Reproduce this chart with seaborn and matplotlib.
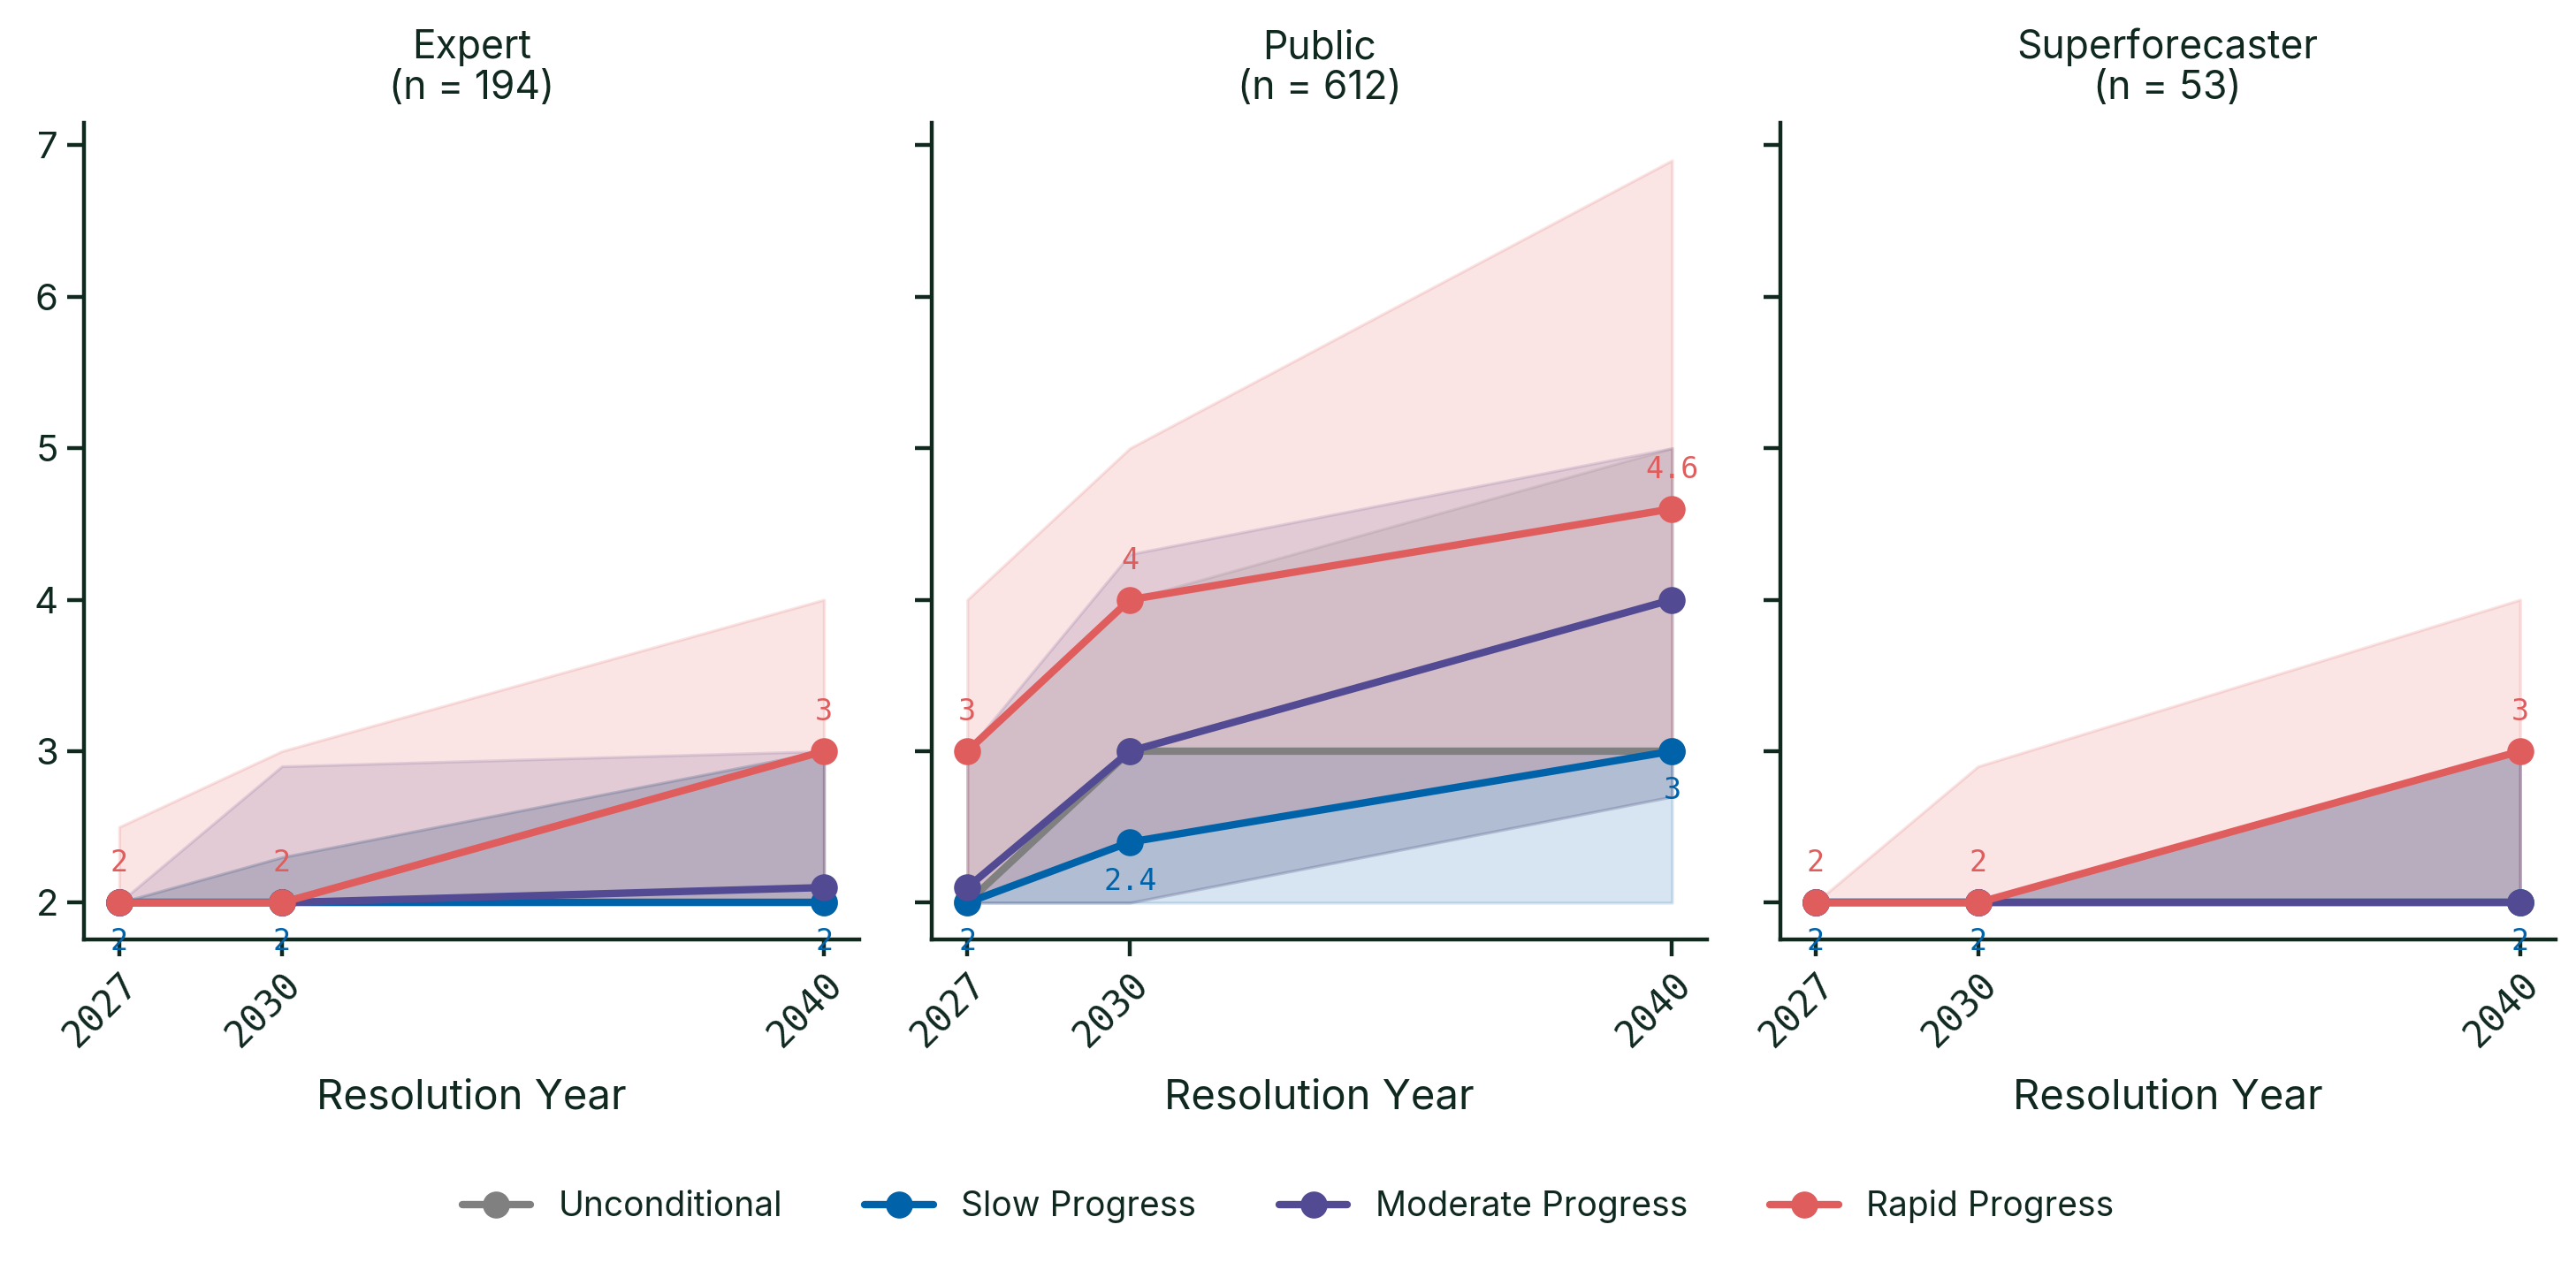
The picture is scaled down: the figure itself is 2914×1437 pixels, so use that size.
import numpy as np
import pandas as pd
import matplotlib.pyplot as plt
import seaborn as sns

# Data
YEARS = [2027, 2030, 2040]
GROUPS = ["Expert", "Public", "Superforecaster"]
GROUP_N = [194, 612, 53]
SCENARIOS = ["Unconditional", "Slow Progress", "Moderate Progress", "Rapid Progress"]
COLORS = ["#808080", "#0062a8", "#524a92", "#e05d5d"]

# medians per group -> scenario
expert_median = {
    "Unconditional": [2, 2, 2],
    "Slow Progress": [2, 2, 2],
    "Moderate Progress": [2, 2, 2.1],
    "Rapid Progress": [2, 2, 3],
}
public_median = {
    "Unconditional": [2, 3, 3],
    "Slow Progress": [2, 2.4, 3],
    "Moderate Progress": [2.1, 3, 4],
    "Rapid Progress": [3, 4, 4.6],
}
super_median = {
    "Unconditional": [2, 2, 2],
    "Slow Progress": [2, 2, 2],
    "Moderate Progress": [2, 2, 2],
    "Rapid Progress": [2, 2, 3],
}

# interquartile bands (lower, upper)
expert_band = {
    "Unconditional": ([2, 2, 2], [2, 2.3, 3]),
    "Slow Progress": ([2, 2, 2], [2, 2.3, 3]),
    "Moderate Progress": ([2, 2, 2], [2, 2.9, 3]),
    "Rapid Progress": ([2, 2, 2], [2.5, 3, 4]),
}
public_band = {
    "Unconditional": ([2, 2, 2.7], [3, 4, 5]),
    "Slow Progress": ([2, 2, 2], [2, 3, 3]),
    "Moderate Progress": ([2, 2, 2.7], [3, 4.3, 5]),
    "Rapid Progress": ([2, 2.4, 3], [4, 5, 6.9]),
}
super_band = {
    "Unconditional": ([2, 2, 2], [2, 2, 3]),
    "Slow Progress": ([2, 2, 2], [2, 2, 3]),
    "Moderate Progress": ([2, 2, 2], [2, 2, 3]),
    "Rapid Progress": ([2, 2, 2], [2, 2.9, 4]),
}

MEDIANS = [expert_median, public_median, super_median]
BANDS = [expert_band, public_band, super_band]

TEXT = "#10291f"
sns.set_theme(style="ticks")
plt.rcParams["font.family"] = ["Inter", "DejaVu Sans"]
plt.rcParams["text.color"] = TEXT
plt.rcParams["axes.labelcolor"] = TEXT
plt.rcParams["xtick.color"] = TEXT
plt.rcParams["ytick.color"] = TEXT

palette = dict(zip(SCENARIOS, COLORS))

fig, axes = plt.subplots(1, 3, figsize=(14.57, 7.185), dpi=200, sharey=True)
fig.subplots_adjust(left=0.0326, right=0.992, top=0.903, bottom=0.26, wspace=0.094)

for ax, group, n, med, band in zip(axes, GROUPS, GROUP_N, MEDIANS, BANDS):
    rows = []
    for s in SCENARIOS:
        for y, v in zip(YEARS, med[s]):
            rows.append({"year": y, "value": v, "scenario": s})
    df = pd.DataFrame(rows)

    for s, c in zip(SCENARIOS, COLORS):
        lo, hi = band[s]
        ax.fill_between(YEARS, lo, hi, color=c, alpha=0.16, linewidth=1.2)

    sns.lineplot(data=df, x="year", y="value", hue="scenario", hue_order=SCENARIOS,
                 palette=palette, marker="o", markersize=11, markeredgewidth=0,
                 linewidth=3, errorbar=None, legend=(ax is axes[0]), ax=ax)

    # value labels: rapid above, slow below
    for y, v in zip(YEARS, med["Rapid Progress"]):
        ax.annotate(f"{v:g}", (y, v), xytext=(0, 16), textcoords="offset points",
                    ha="center", va="center", color=palette["Rapid Progress"],
                    fontsize=12, family="DejaVu Sans Mono")
    for y, v in zip(YEARS, med["Slow Progress"]):
        ax.annotate(f"{v:g}", (y, v), xytext=(0, -16), textcoords="offset points",
                    ha="center", va="center", color=palette["Slow Progress"],
                    fontsize=12, family="DejaVu Sans Mono")

    ax.set_title(f"{group}\n(n = {n})", fontsize=16, color=TEXT, pad=10,
                 linespacing=1.1)
    ax.set_xlabel("Resolution Year", fontsize=17, labelpad=10)
    ax.set_ylabel("")
    ax.set_xticks(YEARS)
    ax.set_xticklabels([str(y) for y in YEARS], rotation=45, ha="right",
                       rotation_mode="anchor", family="DejaVu Sans Mono", fontsize=15)
    ax.set_yticks([2, 3, 4, 5, 6, 7])
    ax.tick_params(axis="both", length=7, width=1.6, labelsize=15)
    for sp in ["left", "bottom"]:
        ax.spines[sp].set_color(TEXT)
        ax.spines[sp].set_linewidth(1.6)
    sns.despine(ax=ax)

handles, labels = axes[0].get_legend_handles_labels()
axes[0].get_legend().remove()
fig.legend(handles, labels, loc="center", bbox_to_anchor=(0.5, 0.05), ncol=4,
           frameon=False, fontsize=14, handlelength=2.0, columnspacing=2.4)

fig.savefig("out.png", dpi=200)
